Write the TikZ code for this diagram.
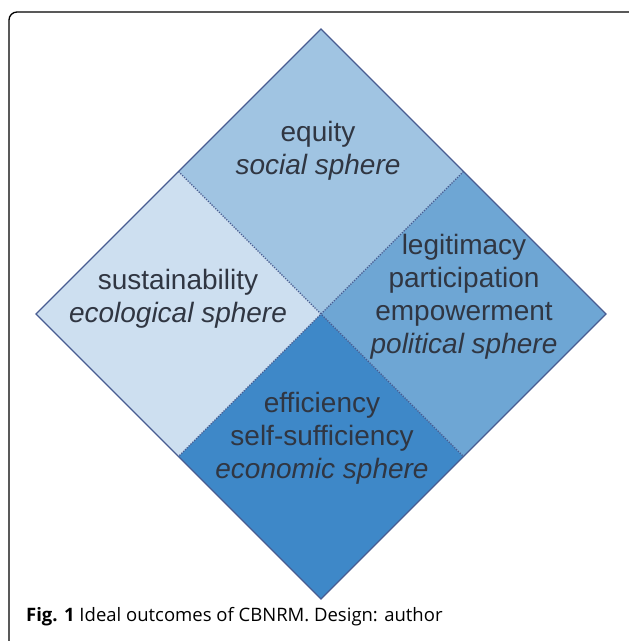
\documentclass[tikz,border=0pt]{standalone}
\usepackage{fontspec}
\setmainfont{Liberation Sans}
\newfontfamily\capfont{Open Sans}

\definecolor{ecoblue}{RGB}{205,223,240}
\definecolor{socblue}{RGB}{160,196,226}
\definecolor{polblue}{RGB}{110,166,212}
\definecolor{econblue}{RGB}{62,136,200}
\definecolor{rimblue}{RGB}{72,92,145}
\definecolor{labelgray}{RGB}{48,54,66}

\begin{document}
\begin{tikzpicture}[x=1pt,y=-1pt,
    rim/.style={draw=rimblue,line width=1.2pt,line join=miter},
    divider/.style={draw=rimblue,line width=1.2pt,dash pattern=on 1.3pt off 1.3pt},
    sphere/.style={align=center,text=labelgray,font=\fontsize{28}{33}\selectfont}]
        \useasboundingbox (0,0) rectangle (629,641);
        % frame
        \draw[line width=1.3pt,rounded corners=8pt](9,700)--(9,12)--(700,12);

        % corners of the diamond
        \coordinate (T) at (321,29);
        \coordinate (L) at (36,314);
        \coordinate (R) at (606,314);
        \coordinate (B) at (321,599);
        \coordinate (C) at (321,314);
        \coordinate (TL) at (178.5,171.5);
        \coordinate (TR) at (463.5,171.5);
        \coordinate (BL) at (178.5,456.5);
        \coordinate (BR) at (463.5,456.5);

        \fill[socblue](T)--(TR)--(C)--(TL)--cycle;
        \fill[ecoblue](TL)--(C)--(BL)--(L)--cycle;
        \fill[polblue](TR)--(R)--(BR)--(C)--cycle;
        \fill[econblue](C)--(BR)--(B)--(BL)--cycle;

        \draw[divider](TL)--(BR);
        \draw[divider](TR)--(BL);
        \draw[rim](T)--(R)--(B)--(L)--cycle;

        \node[sphere](social) at (318,151){equity\\\textit{social sphere}};
        \node[sphere](ecological) at (178,299){sustainability\\\textit{ecological sphere}};
        \node[sphere](political) at (464,297){legitimacy\\participation\\empowerment\\\textit{political sphere}};
        \node[sphere](economic) at (322,438){efficiency\\self-sufficiency\\\textit{economic sphere}};

        \node[anchor=base west,inner sep=0pt](caption) at (26,621){\capfont\fontsize{18.5}{22}\selectfont\textbf{Fig. 1} Ideal outcomes of CBNRM. Design: author};
    \end{tikzpicture}
\end{document}
